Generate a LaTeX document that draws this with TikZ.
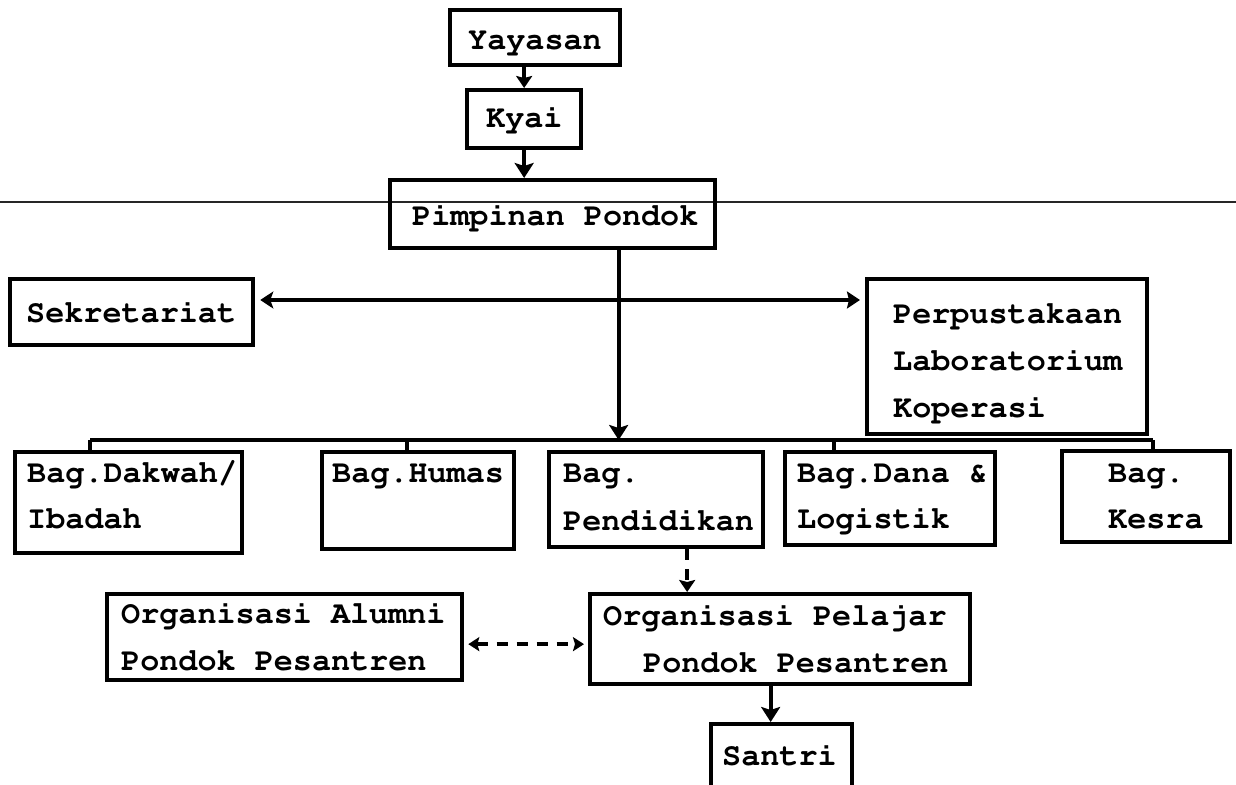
\documentclass[tikz,border=0pt]{standalone}
\usepackage{fontspec}
\usetikzlibrary{arrows.meta}
% typewriter face: Courier (psnfss) in bold
\newcommand{\typeface}{\fontencoding{T1}\fontfamily{pcr}\fontseries{b}\selectfont}

\begin{document}
\begin{tikzpicture}[x=1pt,y=-1pt,
  box/.style={draw, line width=4.3pt, anchor=north west, inner sep=0pt},
  txt/.style={anchor=base west, inner sep=0pt,
    font=\typeface\fontsize{31.8}{46}\selectfont},
  link/.style={line width=4pt},
  tip/.style={-{Stealth[length=15pt,width=19pt,inset=3pt]}},
  smalltip/.style={-{Stealth[length=12pt,width=16pt,inset=2pt]}},
  dashlink/.style={line width=4pt, dash pattern=on 11pt off 9pt},
]
\useasboundingbox (0,0) rectangle (1236,784);
\clip (0,0) rectangle (1236,784);

% thin rule across the sheet
\draw[line width=1.3pt, black!85] (0,202) -- (1236,202);

% boxes
\node[box, minimum width=170pt, minimum height=55pt]  (yayasan)    at (448,8)   {};
\node[box, minimum width=114pt, minimum height=58pt]  (kyai)       at (465,88)  {};
\node[box, minimum width=325pt, minimum height=68pt]  (pimpinan)   at (388,178) {};
\node[box, minimum width=243pt, minimum height=66pt]  (sekretariat) at (8,277)  {};
\node[box, minimum width=280pt, minimum height=155pt] (perpus)     at (865,277) {};
\node[box, minimum width=227pt, minimum height=101pt] (dakwah)     at (13,450)  {};
\node[box, minimum width=192pt, minimum height=97pt]  (humas)      at (320,450) {};
\node[box, minimum width=214pt, minimum height=95pt]  (pendidikan) at (547,450) {};
\node[box, minimum width=210pt, minimum height=93pt]  (dana)       at (783,450) {};
\node[box, minimum width=168pt, minimum height=91pt]  (kesra)      at (1060,449) {};
\node[box, minimum width=355pt, minimum height=86pt]  (alumni)     at (105,592) {};
\node[box, minimum width=380pt, minimum height=90pt]  (pelajar)    at (588,592) {};
\node[box, minimum width=141pt, minimum height=100pt] (santri)     at (709,722) {};

% box texts
\node[txt] (tYayasan) at (468,50)  {Yayasan};
\node[txt] (tKyai)    at (486,127) {Kyai};
\node[txt] (tPimp)    at (412,225) {Pimpinan Pondok};
\node[txt] (tSek)     at (26,322)  {Sekretariat};
\node[txt] (tPer1)    at (893,323) {Perpustakaan};
\node[txt] (tPer2)    at (893,370) {Laboratorium};
\node[txt] (tPer3)    at (893,417) {Koperasi};
\node[txt] (tDak1)    at (27,482)  {Bag.Dakwah/};
\node[txt] (tDak2)    at (27,528)  {Ibadah};
\node[txt] (tHum)     at (332,482) {Bag.Humas};
\node[txt] (tPen1)    at (563,482) {Bag.};
\node[txt] (tPen2)    at (563,530) {Pendidikan};
\node[txt] (tDan1)    at (797,482) {Bag.Dana \&};
\node[txt] (tDan2)    at (797,528) {Logistik};
\node[txt] (tKes1)    at (1108,482) {Bag.};
\node[txt] (tKes2)    at (1108,528) {Kesra};
\node[txt] (tAlu1)    at (121,623) {Organisasi Alumni};
\node[txt] (tAlu2)    at (121,670) {Pondok Pesantren};
\node[txt] (tPel1)    at (603,625) {Organisasi Pelajar};
\node[txt] (tPel2)    at (643,672) {Pondok Pesantren};
\node[txt] (tSan)     at (722,765) {Santri};

% chain at the top
\draw[link, smalltip] (yayasan.south -| kyai.north) -- (kyai.north);
\draw[link, tip] (kyai.south) -- (kyai.south |- pimpinan.north);

% main trunk, side branch and distribution line
\coordinate (trunk) at ([xshift=66pt]pimpinan.south);
\coordinate (hub)   at (616,300);
\coordinate (busL)  at (90,440);
\coordinate (busR)  at (1153,440);
\draw[link, tip] (trunk) -- (trunk |- busL);
\draw[link, {Stealth[length=13pt,width=17pt,inset=3pt]}-{Stealth[length=13pt,width=17pt,inset=2pt]}, shorten <=5pt, shorten >=5pt]
  (hub -| sekretariat.east) -- (hub -| perpus.west);
\draw[link] (busL) -- (busR);

% drops to the sections
\coordinate (dHumas) at ([xshift=-11pt]humas.north);
\coordinate (dDana)  at ([xshift=-56pt]dana.north);
\draw[link] (busL) -- (busL |- dakwah.north);
\draw[link] (dHumas) -- (dHumas |- busL);
\draw[link] (dDana) -- (dDana |- busL);
\draw[link] (busR) -- (busR |- kesra.north);

% student organisation links
\coordinate (dPen) at ([xshift=31pt]pendidikan.south);
\draw[dashlink, smalltip] (dPen) -- (dPen |- pelajar.north);
\draw[dashlink, {Stealth[length=11pt,width=14pt,inset=2pt]}-{Stealth[length=11pt,width=14pt,inset=2pt]}, shorten <=4pt, shorten >=4pt]
  ([yshift=-7pt]alumni.east) -- ([yshift=-7pt]alumni.east -| pelajar.west);
\coordinate (dSan) at ([xshift=-11pt]santri.north);
\draw[link, tip] (dSan |- pelajar.south) -- (dSan);
\end{tikzpicture}
\end{document}
